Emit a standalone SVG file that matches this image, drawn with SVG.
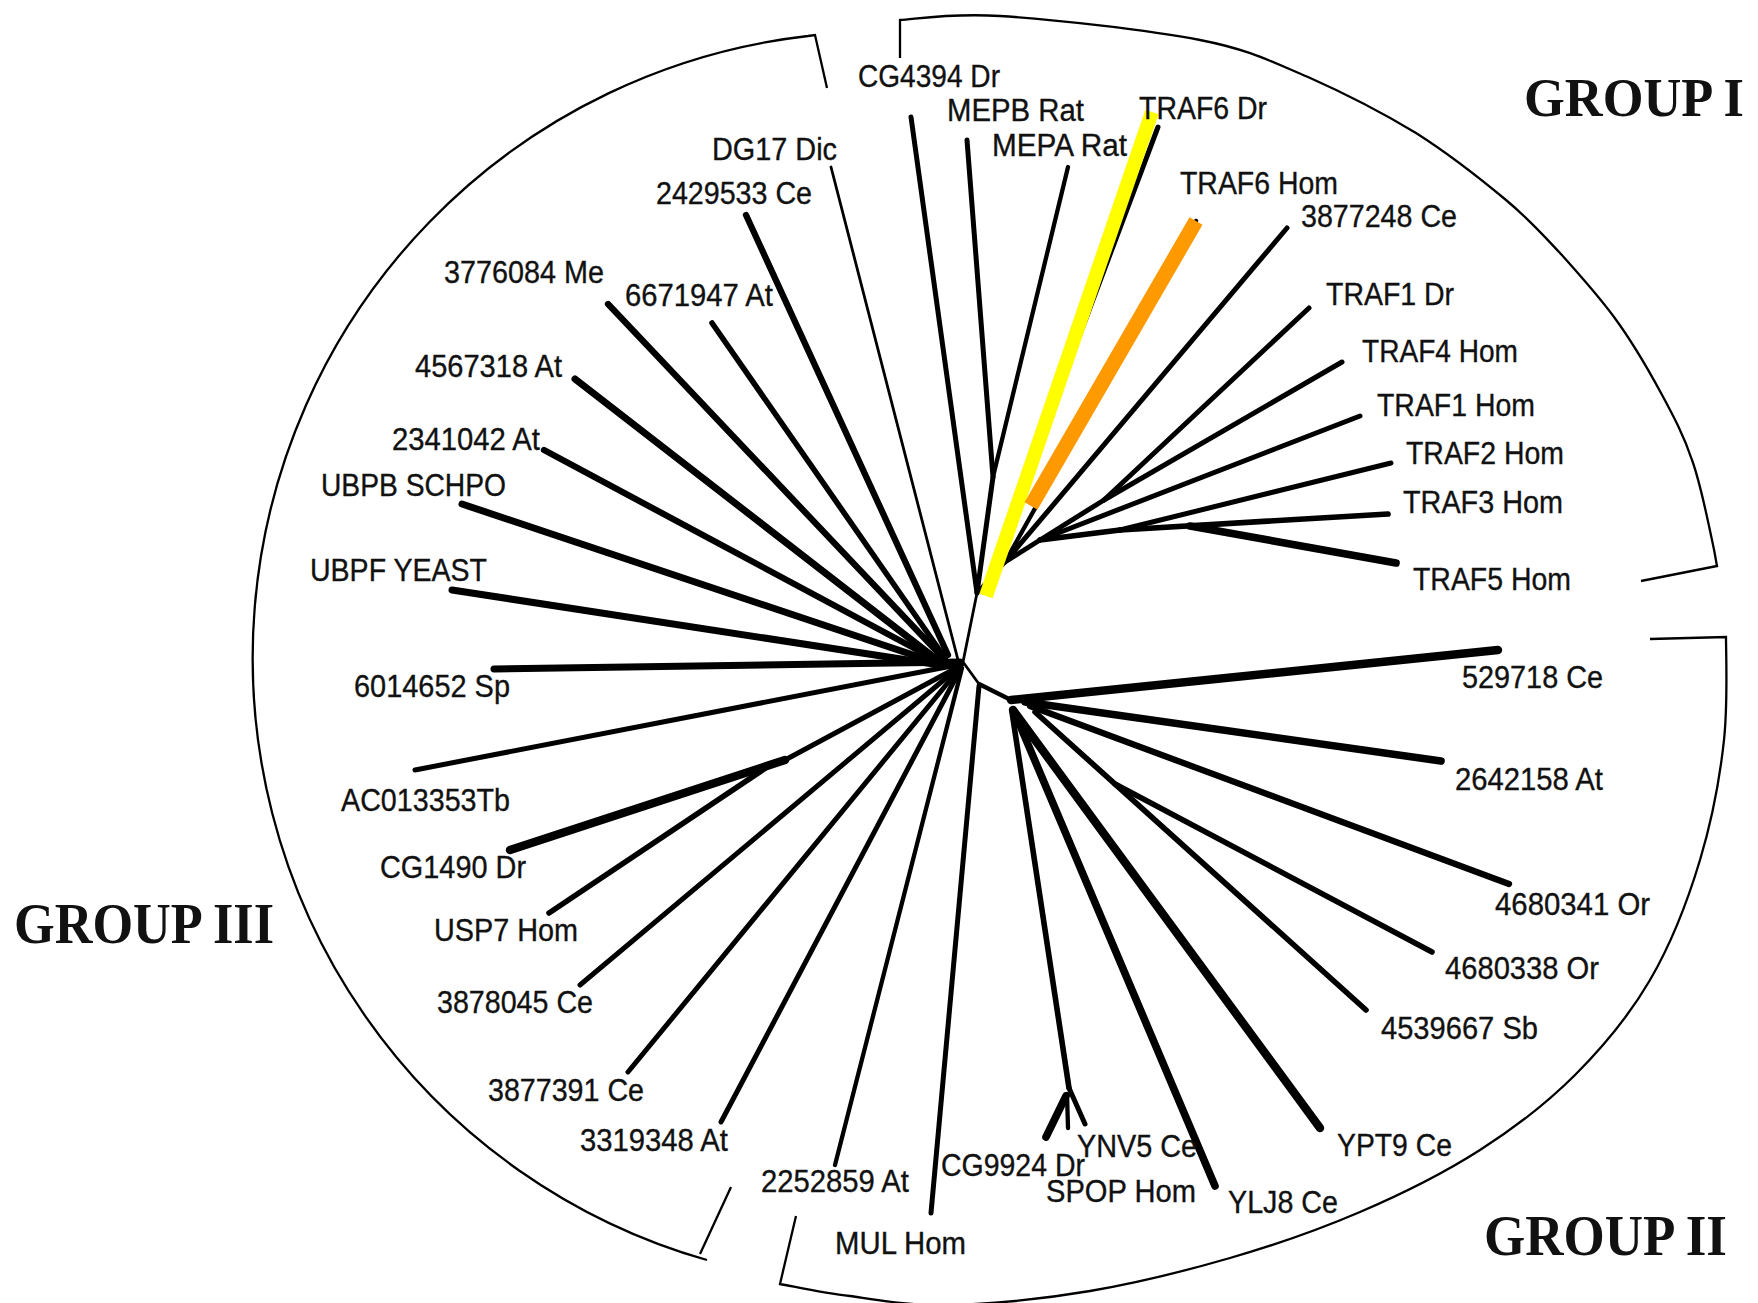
<svg xmlns="http://www.w3.org/2000/svg" width="1758" height="1303" viewBox="0 0 1758 1303">
<style>
.bg{fill:#fff}
.arc{fill:none;stroke:#000;stroke-width:2.3}
.ln{stroke:#000;stroke-linecap:round;fill:none}
.w3{stroke-width:2.8}.w4{stroke-width:4.3}.w45{stroke-width:5}.w5{stroke-width:5.6}.w6{stroke-width:6.3}.w65{stroke-width:7}.w7{stroke-width:7.6}.w8{stroke-width:8.4}
.lbl{font-family:"Liberation Sans",Arial,sans-serif;font-size:31px;fill:#111;stroke:#111;stroke-width:0.35}
.grp{font-family:"Liberation Serif","Times New Roman",serif;font-weight:bold;font-size:57px;fill:#111}
</style>
<rect class="bg" x="0" y="0" width="1758" height="1303"/>
<g id="brackets">
<path class="arc" d="M900,58 L900,20 C917,19 950,13 1000,16 C1050,19 1149,30 1200,40 C1251,50 1272,62 1308,77 C1344,93 1383,113 1416,133 C1449,154 1482,180 1506,200 C1530,220 1542,234 1560,253 C1578,273 1597,294 1614,317 C1631,340 1648,369 1661,393 C1674,417 1684,436 1692,460 C1701,485 1708,522 1712,540 C1716,558 1716,562 1717,566 L1641,581"/>
<path class="arc" d="M827,88 L815,35 L808,36 A626,626 0 0 0 707,1260"/>
<path class="arc" d="M700,1254 L731,1187"/>
<path class="arc" d="M1650,639 L1726,637 C1726,654 1728,703 1724,740 C1720,777 1712,820 1700,860 C1688,900 1671,944 1650,980 C1629,1016 1603,1047 1575,1075 C1547,1103 1516,1127 1480,1150 C1444,1173 1402,1194 1360,1212 C1318,1230 1275,1245 1230,1258 C1185,1271 1137,1283 1090,1291 C1043,1299 990,1304 950,1305 C910,1306 878,1300 850,1296 C822,1293 792,1286 780,1284 L796,1216"/>
</g>
<g id="connectors">
<!-- group I -->
<line class="ln w3" x1="963" y1="662" x2="977" y2="593"/>
<line class="ln w45" x1="911" y1="117" x2="977" y2="593"/>
<line class="ln w45" x1="967" y1="140" x2="993" y2="477"/>
<line class="ln w4" x1="1068" y1="167" x2="993" y2="477"/>
<line class="ln w45" x1="993" y1="477" x2="977" y2="593"/>
<line class="ln w45" x1="1158" y1="127" x2="983" y2="592"/>
<line class="ln w4" x1="977" y1="593" x2="1005" y2="562"/>
<line class="ln w4" x1="1196" y1="221" x2="1005" y2="562"/>
<line class="ln w45" x1="1287" y1="228" x2="1005" y2="562"/>
<line class="ln w45" x1="1309" y1="308" x2="1104" y2="500"/>
<line class="ln w45" x1="1342" y1="362" x2="1104" y2="500"/>
<line class="ln w45" x1="1104" y1="500" x2="1040" y2="540"/>
<line class="ln w45" x1="1360" y1="416" x2="1040" y2="540"/>
<line class="ln w45" x1="1040" y1="540" x2="1005" y2="562"/>
<line class="ln w45" x1="1391" y1="463" x2="1120" y2="530"/>
<line class="ln w5" x1="1388" y1="514" x2="1120" y2="530"/>
<line class="ln w7" x1="1396" y1="563" x2="1190" y2="526"/>
<line class="ln w5" x1="1120" y1="530" x2="1040" y2="540"/>
<!-- group II -->
<line class="ln w3" x1="963" y1="662" x2="979" y2="684"/>
<line class="ln w4" x1="979" y1="684" x2="1011" y2="700"/>
<line class="ln w8" x1="1011" y1="700" x2="1498" y2="650"/>
<line class="ln w7" x1="1025" y1="702" x2="1441" y2="761"/>
<line class="ln w6" x1="1030" y1="706" x2="1509" y2="884"/>
<line class="ln w5" x1="1035" y1="712" x2="1366" y2="1010"/>
<line class="ln w5" x1="1115" y1="784" x2="1432" y2="952"/>
<line class="ln w8" x1="1013" y1="710" x2="1320" y2="1128"/>
<line class="ln w7" x1="1016" y1="716" x2="1215" y2="1186"/>
<line class="ln w5" x1="1012" y1="712" x2="1069" y2="1088"/>
<line class="ln w45" x1="1069" y1="1088" x2="1085" y2="1124"/>
<line class="ln w4" x1="1067" y1="1094" x2="1068" y2="1128"/>
<line class="ln w7" x1="1066" y1="1096" x2="1046" y2="1137"/>
<line class="ln w45" x1="979" y1="686" x2="931" y2="1213"/>
<line class="ln w4" x1="962" y1="668" x2="835" y2="1165"/>
<!-- group III -->
<line class="ln w3" x1="831" y1="167" x2="958" y2="660"/>
<line class="ln w6" x1="746" y1="215" x2="948" y2="655"/>
<line class="ln w6" x1="608" y1="304" x2="945" y2="660"/>
<line class="ln w5" x1="712" y1="323" x2="945" y2="658"/>
<line class="ln w65" x1="575" y1="379" x2="940" y2="662"/>
<line class="ln w6" x1="544" y1="450" x2="940" y2="662"/>
<line class="ln w65" x1="462" y1="504" x2="940" y2="664"/>
<line class="ln w65" x1="452" y1="590" x2="940" y2="665"/>
<line class="ln w65" x1="494" y1="669" x2="960" y2="662"/>
<line class="ln w45" x1="415" y1="770" x2="962" y2="664"/>
<line class="ln w8" x1="510" y1="850" x2="785" y2="760"/>
<line class="ln w5" x1="549" y1="913" x2="770" y2="765"/>
<line class="ln w45" x1="785" y1="760" x2="960" y2="666"/>
<line class="ln w45" x1="580" y1="985" x2="958" y2="668"/>
<line class="ln w45" x1="628" y1="1072" x2="960" y2="668"/>
<line class="ln w45" x1="721" y1="1122" x2="961" y2="668"/>
</g>
<g id="highlights">
<line x1="1152" y1="112" x2="986" y2="596" stroke="#ffff00" stroke-width="14"/>
<line x1="1196" y1="221" x2="1031" y2="506" stroke="#ff9900" stroke-width="15"/>
</g>
<g id="labels">
<g id="n-CG4394"><text class="lbl" x="858" y="87" textLength="142" lengthAdjust="spacingAndGlyphs">CG4394 Dr</text></g>
<g id="n-MEPB"><text class="lbl" x="947" y="121" textLength="137" lengthAdjust="spacingAndGlyphs">MEPB Rat</text></g>
<g id="n-MEPA"><text class="lbl" x="992" y="156" textLength="135" lengthAdjust="spacingAndGlyphs">MEPA Rat</text></g>
<g id="n-TRAF6Dr"><text class="lbl" x="1139" y="119" textLength="128" lengthAdjust="spacingAndGlyphs">TRAF6 Dr</text></g>
<g id="n-TRAF6Hom"><text class="lbl" x="1180" y="194" textLength="158" lengthAdjust="spacingAndGlyphs">TRAF6 Hom</text></g>
<g id="n-3877248"><text class="lbl" x="1301" y="227" textLength="156" lengthAdjust="spacingAndGlyphs">3877248 Ce</text></g>
<g id="n-TRAF1Dr"><text class="lbl" x="1326" y="305" textLength="128" lengthAdjust="spacingAndGlyphs">TRAF1 Dr</text></g>
<g id="n-TRAF4Hom"><text class="lbl" x="1362" y="362" textLength="156" lengthAdjust="spacingAndGlyphs">TRAF4 Hom</text></g>
<g id="n-TRAF1Hom"><text class="lbl" x="1377" y="416" textLength="158" lengthAdjust="spacingAndGlyphs">TRAF1 Hom</text></g>
<g id="n-TRAF2Hom"><text class="lbl" x="1406" y="464" textLength="158" lengthAdjust="spacingAndGlyphs">TRAF2 Hom</text></g>
<g id="n-TRAF3Hom"><text class="lbl" x="1403" y="513" textLength="160" lengthAdjust="spacingAndGlyphs">TRAF3 Hom</text></g>
<g id="n-TRAF5Hom"><text class="lbl" x="1413" y="590" textLength="158" lengthAdjust="spacingAndGlyphs">TRAF5 Hom</text></g>
<g id="n-DG17"><text class="lbl" x="712" y="160" textLength="125" lengthAdjust="spacingAndGlyphs">DG17 Dic</text></g>
<g id="n-2429533"><text class="lbl" x="656" y="204" textLength="156" lengthAdjust="spacingAndGlyphs">2429533 Ce</text></g>
<g id="n-3776084"><text class="lbl" x="444" y="283" textLength="160" lengthAdjust="spacingAndGlyphs">3776084 Me</text></g>
<g id="n-6671947"><text class="lbl" x="625" y="306" textLength="148" lengthAdjust="spacingAndGlyphs">6671947 At</text></g>
<g id="n-4567318"><text class="lbl" x="415" y="377" textLength="147" lengthAdjust="spacingAndGlyphs">4567318 At</text></g>
<g id="n-2341042"><text class="lbl" x="392" y="450" textLength="148" lengthAdjust="spacingAndGlyphs">2341042 At</text></g>
<g id="n-UBPB"><text class="lbl" x="321" y="496" textLength="185" lengthAdjust="spacingAndGlyphs">UBPB SCHPO</text></g>
<g id="n-UBPF"><text class="lbl" x="310" y="581" textLength="177" lengthAdjust="spacingAndGlyphs">UBPF YEAST</text></g>
<g id="n-6014652"><text class="lbl" x="354" y="697" textLength="156" lengthAdjust="spacingAndGlyphs">6014652 Sp</text></g>
<g id="n-AC013353"><text class="lbl" x="341" y="811" textLength="169" lengthAdjust="spacingAndGlyphs">AC013353Tb</text></g>
<g id="n-CG1490"><text class="lbl" x="380" y="878" textLength="146" lengthAdjust="spacingAndGlyphs">CG1490 Dr</text></g>
<g id="n-USP7"><text class="lbl" x="434" y="941" textLength="144" lengthAdjust="spacingAndGlyphs">USP7 Hom</text></g>
<g id="n-3878045"><text class="lbl" x="437" y="1013" textLength="156" lengthAdjust="spacingAndGlyphs">3878045 Ce</text></g>
<g id="n-3877391"><text class="lbl" x="488" y="1101" textLength="156" lengthAdjust="spacingAndGlyphs">3877391 Ce</text></g>
<g id="n-3319348"><text class="lbl" x="580" y="1151" textLength="148" lengthAdjust="spacingAndGlyphs">3319348 At</text></g>
<g id="n-2252859"><text class="lbl" x="761" y="1192" textLength="148" lengthAdjust="spacingAndGlyphs">2252859 At</text></g>
<g id="n-MUL"><text class="lbl" x="835" y="1254" textLength="131" lengthAdjust="spacingAndGlyphs">MUL Hom</text></g>
<g id="n-CG9924"><text class="lbl" x="941" y="1176" textLength="144" lengthAdjust="spacingAndGlyphs">CG9924 Dr</text></g>
<g id="n-YNV5"><text class="lbl" x="1077" y="1157" textLength="120" lengthAdjust="spacingAndGlyphs">YNV5 Ce</text></g>
<g id="n-SPOP"><text class="lbl" x="1046" y="1202" textLength="150" lengthAdjust="spacingAndGlyphs">SPOP Hom</text></g>
<g id="n-YLJ8"><text class="lbl" x="1228" y="1213" textLength="110" lengthAdjust="spacingAndGlyphs">YLJ8 Ce</text></g>
<g id="n-YPT9"><text class="lbl" x="1337" y="1156" textLength="115" lengthAdjust="spacingAndGlyphs">YPT9 Ce</text></g>
<g id="n-4539667"><text class="lbl" x="1381" y="1039" textLength="157" lengthAdjust="spacingAndGlyphs">4539667 Sb</text></g>
<g id="n-4680338"><text class="lbl" x="1445" y="979" textLength="154" lengthAdjust="spacingAndGlyphs">4680338 Or</text></g>
<g id="n-4680341"><text class="lbl" x="1495" y="915" textLength="155" lengthAdjust="spacingAndGlyphs">4680341 Or</text></g>
<g id="n-2642158"><text class="lbl" x="1455" y="790" textLength="148" lengthAdjust="spacingAndGlyphs">2642158 At</text></g>
<g id="n-529718"><text class="lbl" x="1462" y="688" textLength="141" lengthAdjust="spacingAndGlyphs">529718 Ce</text></g>
</g>
<g id="groups">
<g id="g-I"><text class="grp" x="1524" y="116" font-size="54" style="font-size:54px" textLength="220" lengthAdjust="spacingAndGlyphs">GROUP I</text></g>
<g id="g-II"><text class="grp" x="1484" y="1255" textLength="243" lengthAdjust="spacingAndGlyphs">GROUP II</text></g>
<g id="g-III"><text class="grp" x="14" y="943" textLength="260" lengthAdjust="spacingAndGlyphs">GROUP III</text></g>
</g>
</svg>
